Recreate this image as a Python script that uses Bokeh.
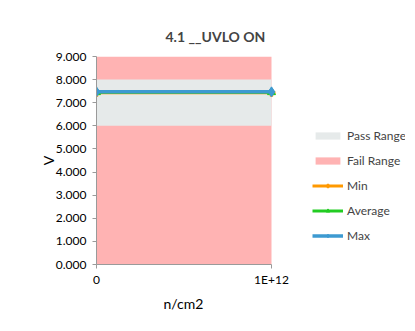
from bokeh.plotting import figure
from bokeh.models import Range1d, Legend, LegendItem, FixedTicker, Title
from bokeh.embed import file_html
from bokeh.resources import INLINE

categories = ["0", "1E+12"]
fail_low = [0.0, 0.0]
fail_high = [9.0, 9.0]
pass_low = [6.0, 6.0]
pass_high = [8.0, 8.0]
min_v = [7.43, 7.43]
avg_v = [7.45, 7.45]
max_v = [7.47, 7.47]
y_ticks = [0, 1, 2, 3, 4, 5, 6, 7, 8, 9]

xs = list(range(len(categories)))
FONT = "Lato"

# plot region: categories span 175px; frame extended to the right to host the legend
CAT_PX = 175.0
LEFT, RIGHT, TOP, BOTTOM = 96, 5, 56, 61
W, H = 410, 325
frame_w = W - LEFT - RIGHT
x_end = (len(categories) - 1) * frame_w / CAT_PX

p = figure(width=W, height=H, output_backend="svg", toolbar_location=None,
           x_range=Range1d(0, x_end), y_range=Range1d(0, 9),
           min_border_left=LEFT, min_border_right=RIGHT, min_border_top=TOP, min_border_bottom=BOTTOM)
p.outline_line_color = None
p.xgrid.visible = False
p.ygrid.visible = False
p.background_fill_color = "white"

fail_r = p.varea(x=xs, y1=fail_low, y2=fail_high, fill_color="#FFB3B3")
pass_r = p.varea(x=xs, y1=pass_low, y2=pass_high, fill_color="#E6EAEA")

min_l = p.line(xs, min_v, line_color="#FF9900", line_width=3)
min_m = p.scatter(xs, min_v, marker="plus", size=7, color="#FF9900")
avg_l = p.line(xs, avg_v, line_color="#22CC22", line_width=3)
avg_m = p.scatter(xs, avg_v, marker="triangle", size=8, color="#22CC22")
max_l = p.line(xs, max_v, line_color="#3D9AD1", line_width=3.5)
max_m = p.scatter(xs, max_v, marker="diamond", size=10, color="#3D9AD1")

p.title.text = "4.1 __UVLO ON"
p.title.text_font = FONT
p.title.text_font_size = "14px"
p.title.text_font_style = "bold"
p.title.align = "left"
p.title.offset = 69
# small blank spacer between the frame and the title
p.add_layout(Title(text=" ", text_font_size="4px", standoff=0), "above")

ax = p.xaxis[0]
ax.ticker = FixedTicker(ticks=xs)
ax.major_label_overrides = {i: c for i, c in enumerate(categories)}
ax.bounds = (0, len(categories) - 1)
ay = p.yaxis[0]
ay.ticker = FixedTicker(ticks=y_ticks)
ay.major_label_overrides = {t: f"{t:.3f}" for t in y_ticks}
ay.axis_label = "V"
for a in (ax, ay):
    a.axis_line_color = "#9A9A9A"
    a.major_tick_line_color = "#9A9A9A"
    a.minor_tick_line_color = None
    a.major_tick_out = 4
    a.major_tick_in = 0
    a.major_label_text_font = FONT
    a.major_label_text_font_size = "12px"
    a.major_label_text_color = "#000000"
    a.axis_label_text_font = FONT
    a.axis_label_text_font_size = "14px"
    a.axis_label_text_font_style = "normal"
    a.axis_label_text_color = "#000000"
ax.major_label_standoff = 3
ay.major_label_standoff = 6
ay.axis_label_standoff = -4

xlabel = Title(text="n/cm2", align="left", offset=67, text_font=FONT,
               text_font_size="14px", text_font_style="normal", text_color="#000000",
               vertical_align="top")
p.add_layout(xlabel, "below")

legend = Legend(items=[
    LegendItem(label="Pass Range", renderers=[pass_r]),
    LegendItem(label="Fail Range", renderers=[fail_r]),
    LegendItem(label="Min", renderers=[min_l, min_m]),
    LegendItem(label="Average", renderers=[avg_l, avg_m]),
    LegendItem(label="Max", renderers=[max_l, max_m]),
], location=(216, 21), orientation="vertical")
legend.label_text_font = FONT
legend.label_text_font_size = "12px"
legend.glyph_width = 31
legend.glyph_height = 9
legend.label_height = 12
legend.spacing = 10
legend.padding = 0
legend.margin = 0
legend.label_standoff = 4
legend.border_line_color = None
legend.background_fill_alpha = 0
p.add_layout(legend)

open("out.html", "w").write(file_html(p, INLINE))
